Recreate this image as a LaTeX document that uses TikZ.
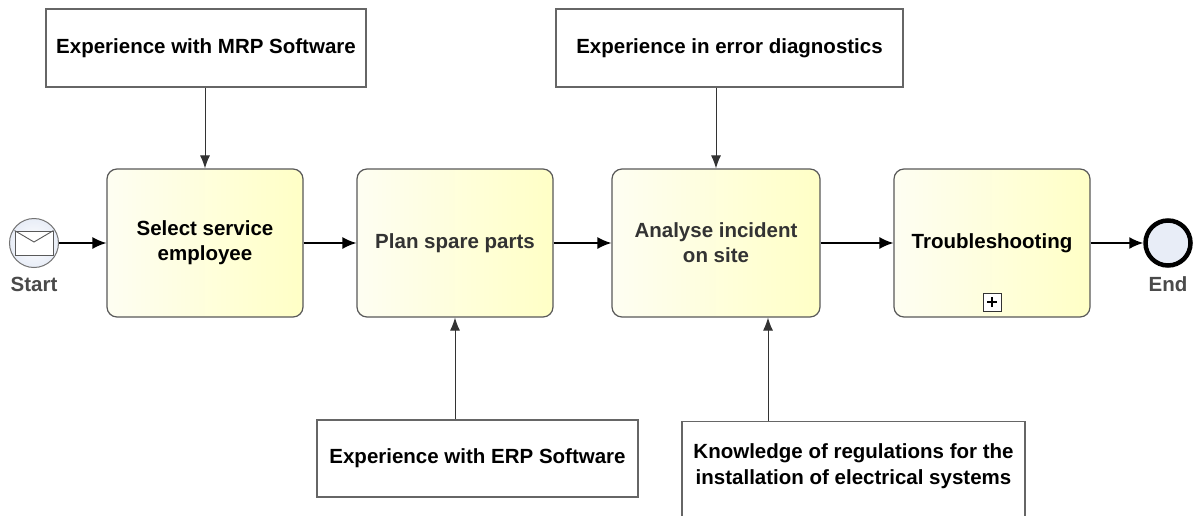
\documentclass[tikz,border=0pt]{standalone}
\usepackage{fontspec}
\setmainfont{Liberation Sans}
\usetikzlibrary{arrows.meta,shapes.geometric}
\definecolor{tleft}{HTML}{FEFEF2}
\definecolor{tright}{HTML}{FFFFC6}
\definecolor{evfill}{HTML}{E8EDF7}
\definecolor{lblgray}{HTML}{4A4A4A}
\definecolor{txtgray}{HTML}{333333}
\begin{document}
\begin{tikzpicture}[x=1pt,y=-1pt,
  txt/.style={font=\fontsize{20.5}{25}\selectfont\bfseries, align=center},
  resbox/.style={txt, draw=black!60, line width=1.2pt, fill=white, inner sep=0pt, minimum height=78pt},
  taskbox/.style={txt, draw=black!65, line width=1.2pt, rounded corners=10pt,
     left color=tleft, right color=tright, minimum width=196pt, minimum height=148pt, inner sep=0pt},
  flow/.style={-{Latex[length=14pt,width=12pt]}, line width=1.6pt, draw=black},
  assoc/.style={-{Latex[length=13pt,width=10pt]}, line width=1pt, draw=black!80},
  evlabel/.style={font=\fontsize{20.5}{25}\selectfont\bfseries, text=lblgray}
]
\useasboundingbox[fill=white] (0,0) rectangle (1194,515);

% resources
\node[resbox, minimum width=320pt] (mrp) at (206,48) {Experience with MRP Software};
\node[resbox, minimum width=347pt] (err) at (729.5,48) {Experience in error diagnostics};
\node[resbox, minimum width=321pt, minimum height=77pt] (erp) at (477.5,458.5) {Experience with ERP Software};
\node[resbox, minimum width=343pt, minimum height=120pt, anchor=north] (know) at (853.5,421)
  {\begin{tabular}{@{}c@{}}Knowledge of regulations for the\\[1pt]installation of electrical systems\\[5pt]\mbox{}\end{tabular}};

% tasks
\node[taskbox] (sel) at (205,243) {\raisebox{-2pt}{\begin{tabular}{@{}c@{}}Select service\\employee\end{tabular}}};
\node[taskbox, text=txtgray] (plan) at (455,243) {Plan spare parts};
\node[taskbox, text=txtgray, minimum width=208pt] (ana) at (716,243) {Analyse incident\\on site};
\node[taskbox] (trb) at (992,243) {Troubleshooting};

% subprocess marker
\node[draw=black!80, line width=1pt, fill=white, minimum size=18pt, inner sep=0pt] (pm) at (992,302) {};
\draw[line width=1.8pt] ([xshift=-5pt]pm.center) -- ([xshift=5pt]pm.center);
\draw[line width=1.8pt] ([yshift=-5pt]pm.center) -- ([yshift=5pt]pm.center);

% start event
\node[circle, draw=black!55, line width=1pt, inner color=white, outer color=evfill, minimum size=49pt, inner sep=0pt] (start) at (34,243) {};
\node[draw=black!65, line width=0.9pt, fill=white, minimum width=38pt, minimum height=24pt, inner sep=0pt] (env) at (34,243) {};
\draw[black!65, line width=0.9pt] (env.north west) -- ([yshift=1pt]env.center) -- (env.north east);
\node[evlabel] (startlbl) at (34,284) {Start};

% end event
\node[circle, draw=black, line width=4.5pt, fill=evfill, minimum size=45pt, inner sep=0pt] (end) at (1168,243) {};
\node[evlabel] (endlbl) at (1168,284) {End};

% sequence flows
\draw[flow] (start) -- (sel);
\draw[flow] (sel) -- (plan);
\draw[flow] (plan) -- (ana);
\draw[flow] (ana) -- (trb);
\draw[flow] (trb) -- (end);

% associations
\draw[assoc] (sel.north |- mrp.south) -- (sel.north);
\draw[assoc] (ana.north |- err.south) -- (ana.north);
\draw[assoc] (plan.south |- erp.north) -- (plan.south);
\draw[assoc] ([xshift=52pt]ana.south |- know.north) -- ([xshift=52pt]ana.south);
\end{tikzpicture}
\end{document}
